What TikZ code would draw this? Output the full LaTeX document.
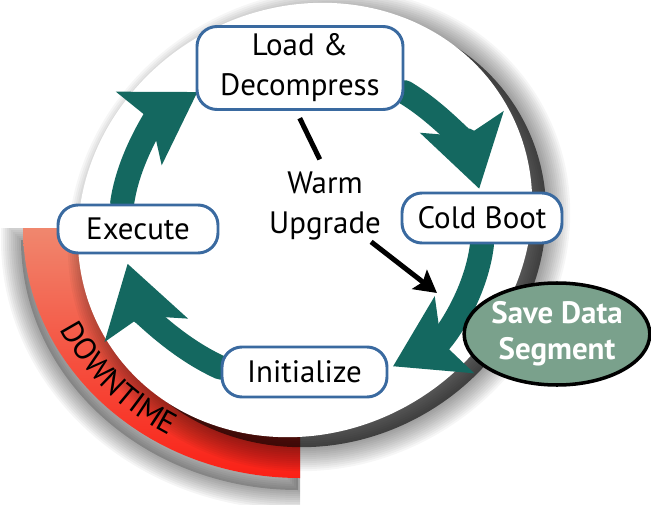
\documentclass[tikz,border=0pt]{standalone}
\usepackage{fontspec}
\setmainfont{PT Sans}
\usepackage{tikz}
\usetikzlibrary{arrows.meta, shapes.geometric, decorations.text}

\definecolor{cyclegreen}{RGB}{20,104,96}
\definecolor{boxblue}{RGB}{58,106,160}
\definecolor{savegreen}{RGB}{122,161,140}
\definecolor{downlight}{RGB}{240,135,110}
\definecolor{downred}{RGB}{250,32,22}

\newcommand{\boxfont}{\fontsize{22}{28.5}\selectfont}
\newcommand{\savefont}{\fontsize{22}{25.5}\selectfont\bfseries}
\newcommand{\downfont}{\fontsize{22}{26}\selectfont}
\newcommand{\downpath}{(7.5,6.9) -- (0.575,6.9) arc[start angle=180, end angle=270, x radius=6.925cm, y radius=6.25cm] -- cycle}
\newcommand{\discpath}{(0,0) ellipse[x radius=5.8cm, y radius=5.3cm]}

\pgfdeclarelayer{background}
\pgfsetlayers{background,main}

\begin{document}
\begin{tikzpicture}[
    stepbox/.style={draw=boxblue, line width=2.1pt, fill=white, rounded corners=0.5cm, align=center, font=\boxfont, inner sep=0pt},
    cyclearrow/.style={cyclegreen, line width=0.6cm, line cap=round, -{Stealth[length=1.7cm, width=2.1cm, inset=0.35cm]}},
    hintline/.style={black, line width=0.125cm},
    hintarrow/.style={hintline, -{Stealth[length=0.55cm, width=0.6cm, inset=0.1cm]}},
    savebubble/.style={ellipse, draw=black, line width=2.5pt, fill=savegreen, text=white, align=center, font=\savefont, minimum width=4.6cm, minimum height=2.55cm, inner sep=0pt}
  ]
  \useasboundingbox (0,0) rectangle (16.275,12.6);

  % steps of the cycle
  \node[stepbox, minimum width=5.15cm, minimum height=2.075cm] (load) at (7.5, 10.9) {Load \&\\Decompress};
  \node[stepbox, minimum width=4cm, minimum height=1.25cm] (cold) at (12.05, 7.15) {Cold Boot};
  \node[stepbox, minimum width=4.125cm, minimum height=1.25cm] (init) at (7.6125, 3.3) {Initialize};
  \node[stepbox, minimum width=4cm, minimum height=1.2cm] (exec) at (3.45, 6.875) {Execute};
  \node[align=center, font=\boxfont, inner sep=1pt] (warm) at (8.125, 7.45) {Warm\\Upgrade};
  \node[savebubble] (save) at (13.925, 4.25) {Save Data\\Segment};
  \coordinate (warmtip) at (10.925, 5.275);

  \draw[hintline, shorten <=0.2cm, shorten >=0.3cm] (load.-95) -- (warm.north);
  \draw[hintarrow] (warm) -- (warmtip);

  \begin{pgfonlayer}{background}
    \fill[white] (0,0) rectangle (16.275,12.6);
    % downtime band and its shadow
    \begin{scope}
      \clip (0,0) rectangle (7.5,6.9);
      \begin{scope}[shift={(-0.05,-0.3)}]
        \foreach \w in {1,2,...,10}
          \draw[black, opacity=0.04, line width=\w mm] \downpath;
        \fill[black, opacity=0.2] \downpath;
      \end{scope}
    \end{scope}
    \shade[top color=downlight, bottom color=downred] \downpath;
    \path[decorate, decoration={text along path, text align=center, text={|\downfont|DOWNTIME}}]
      (7.5,6.9) ++(198:6.62cm and 5.97cm) arc[start angle=198, end angle=247, x radius=6.62cm, y radius=5.97cm];

    % disc and its shadow
    \begin{scope}[shift={(7.975,6.85)}, rotate=30]
      \foreach \w in {1,2,...,12}
        \draw[black, opacity=0.035, line width=\w mm] \discpath;
      \fill[black, opacity=0.6] \discpath;
    \end{scope}
    \fill[white, shift={(7.625,7.1)}, rotate=30] \discpath;

    % cycle arrows
    \draw[cyclearrow] (load.-13) arc[start angle=56, end angle=13, x radius=4.5cm, y radius=4cm];
    \draw[cyclearrow] (cold.south) arc[start angle=-6, end angle=-60, x radius=4.5cm, y radius=4cm];
    \draw[cyclearrow] (init.177) arc[start angle=-117, end angle=-166, x radius=4.5cm, y radius=4cm];
    \draw[cyclearrow] (exec.122) arc[start angle=173, end angle=125, x radius=4.5cm, y radius=4cm];
  \end{pgfonlayer}
\end{tikzpicture}
\end{document}
